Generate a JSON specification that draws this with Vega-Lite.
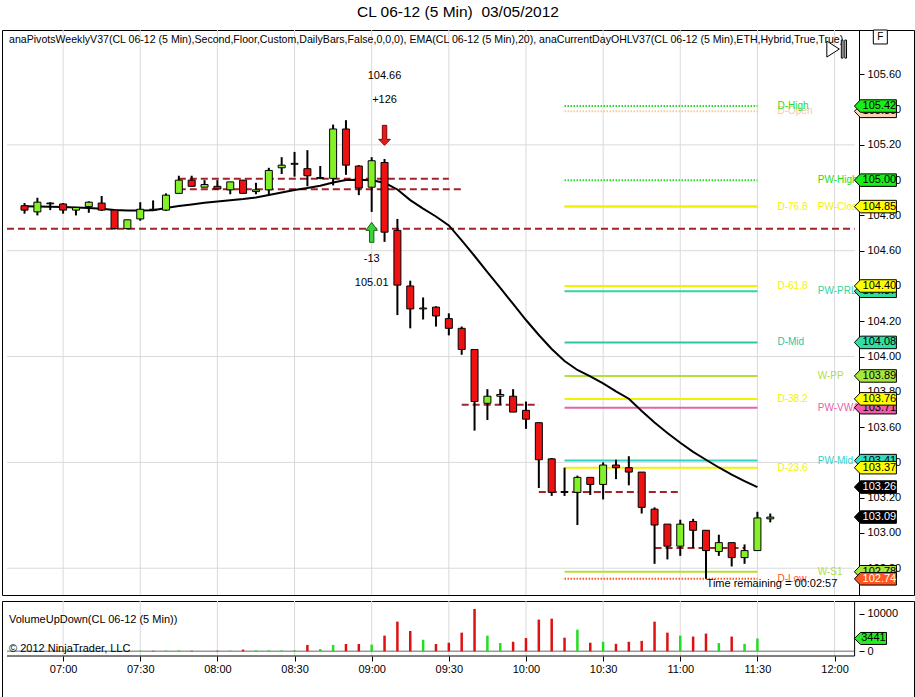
{
  "$schema": "https://vega.github.io/schema/vega-lite/v6.json",
  "background": "#ffffff",
  "padding": {"left": 1, "right": 0, "top": 4, "bottom": 0},
  "title": {"text": "CL 06-12 (5 Min)\u00a0 03/05/2012", "fontSize": 15.5, "font": "Liberation Sans", "fontWeight": "normal", "anchor": "middle", "offset": 7, "color": "#000000"},
  "spacing": 4,
  "config": {
    "view": {"stroke": "#000000", "strokeWidth": 1},
    "font": "Liberation Sans",
    "axis": {"labelFont": "Liberation Sans", "labelFontSize": 11, "labelColor": "#000000", "tickColor": "#000000", "domainColor": "#000000"}
  },
  "datasets": {
    "bars": [
      {"t": "2012-03-05T06:45", "o": 104.855, "h": 104.87, "l": 104.81, "c": 104.83, "v": null, "e": 104.852},
      {"t": "2012-03-05T06:50", "o": 104.82, "h": 104.9, "l": 104.8, "c": 104.875, "v": null, "e": 104.851},
      {"t": "2012-03-05T06:55", "o": 104.87, "h": 104.875, "l": 104.83, "c": 104.866, "v": null, "e": 104.849},
      {"t": "2012-03-05T07:00", "o": 104.865, "h": 104.87, "l": 104.81, "c": 104.83, "v": null, "e": 104.848},
      {"t": "2012-03-05T07:05", "o": 104.83, "h": 104.845, "l": 104.8, "c": 104.845, "v": null, "e": 104.845},
      {"t": "2012-03-05T07:10", "o": 104.85, "h": 104.88, "l": 104.815, "c": 104.875, "v": null, "e": 104.842},
      {"t": "2012-03-05T07:15", "o": 104.87, "h": 104.91, "l": 104.825, "c": 104.83, "v": null, "e": 104.838},
      {"t": "2012-03-05T07:20", "o": 104.83, "h": 104.83, "l": 104.72, "c": 104.725, "v": null, "e": 104.831},
      {"t": "2012-03-05T07:25", "o": 104.725, "h": 104.775, "l": 104.72, "c": 104.775, "v": null, "e": 104.828},
      {"t": "2012-03-05T07:30", "o": 104.78, "h": 104.875, "l": 104.77, "c": 104.835, "v": 200, "e": 104.828},
      {"t": "2012-03-05T07:35", "o": 104.835, "h": 104.885, "l": 104.825, "c": 104.83, "v": 150, "e": 104.829},
      {"t": "2012-03-05T07:40", "o": 104.83, "h": 104.925, "l": 104.825, "c": 104.915, "v": 200, "e": 104.842},
      {"t": "2012-03-05T07:45", "o": 104.925, "h": 105.025, "l": 104.925, "c": 105.0, "v": 250, "e": 104.853},
      {"t": "2012-03-05T07:50", "o": 105.0, "h": 105.025, "l": 104.965, "c": 104.965, "v": 150, "e": 104.862},
      {"t": "2012-03-05T07:55", "o": 104.96, "h": 105.0, "l": 104.96, "c": 104.975, "v": 50, "e": 104.872},
      {"t": "2012-03-05T08:00", "o": 104.965, "h": 105.0, "l": 104.95, "c": 104.95, "v": 150, "e": 104.879},
      {"t": "2012-03-05T08:05", "o": 104.945, "h": 104.99, "l": 104.92, "c": 104.99, "v": 200, "e": 104.886},
      {"t": "2012-03-05T08:10", "o": 105.0, "h": 105.0, "l": 104.925, "c": 104.925, "v": 450, "e": 104.893},
      {"t": "2012-03-05T08:15", "o": 104.935, "h": 104.985, "l": 104.92, "c": 104.945, "v": 250, "e": 104.902},
      {"t": "2012-03-05T08:20", "o": 104.945, "h": 105.07, "l": 104.92, "c": 105.055, "v": 250, "e": 104.916},
      {"t": "2012-03-05T08:25", "o": 105.07, "h": 105.13, "l": 105.035, "c": 105.085, "v": 250, "e": 104.93},
      {"t": "2012-03-05T08:30", "o": 105.09, "h": 105.16, "l": 105.02, "c": 105.095, "v": 300, "e": 104.944},
      {"t": "2012-03-05T08:35", "o": 105.065, "h": 105.17, "l": 104.965, "c": 105.025, "v": 1700, "e": 104.955},
      {"t": "2012-03-05T08:40", "o": 105.01, "h": 105.08, "l": 105.005, "c": 105.015, "v": 600, "e": 104.968},
      {"t": "2012-03-05T08:45", "o": 105.01, "h": 105.315, "l": 104.97, "c": 105.29, "v": 1700, "e": 104.987},
      {"t": "2012-03-05T08:50", "o": 105.29, "h": 105.34, "l": 105.03, "c": 105.085, "v": 1950, "e": 105.001},
      {"t": "2012-03-05T08:55", "o": 105.08, "h": 105.085, "l": 104.915, "c": 104.955, "v": 1950, "e": 105.002},
      {"t": "2012-03-05T09:00", "o": 104.96, "h": 105.13, "l": 104.82, "c": 105.11, "v": 1800, "e": 104.999},
      {"t": "2012-03-05T09:05", "o": 105.1, "h": 105.12, "l": 104.65, "c": 104.705, "v": 4200, "e": 104.985},
      {"t": "2012-03-05T09:10", "o": 104.715, "h": 104.78, "l": 104.235, "c": 104.405, "v": 7950, "e": 104.947},
      {"t": "2012-03-05T09:15", "o": 104.4, "h": 104.43, "l": 104.16, "c": 104.27, "v": 5450, "e": 104.887},
      {"t": "2012-03-05T09:20", "o": 104.27, "h": 104.335, "l": 104.21, "c": 104.275, "v": 3100, "e": 104.839},
      {"t": "2012-03-05T09:25", "o": 104.28, "h": 104.285, "l": 104.17, "c": 104.23, "v": 1950, "e": 104.794},
      {"t": "2012-03-05T09:30", "o": 104.215, "h": 104.245, "l": 104.12, "c": 104.16, "v": 2300, "e": 104.743},
      {"t": "2012-03-05T09:35", "o": 104.16, "h": 104.17, "l": 104.01, "c": 104.04, "v": 5000, "e": 104.658},
      {"t": "2012-03-05T09:40", "o": 104.04, "h": 104.04, "l": 103.58, "c": 103.745, "v": 11350, "e": 104.57},
      {"t": "2012-03-05T09:45", "o": 103.735, "h": 103.815, "l": 103.64, "c": 103.775, "v": 4200, "e": 104.479},
      {"t": "2012-03-05T09:50", "o": 103.775, "h": 103.815, "l": 103.725, "c": 103.785, "v": 2200, "e": 104.389},
      {"t": "2012-03-05T09:55", "o": 103.775, "h": 103.815, "l": 103.685, "c": 103.685, "v": 2550, "e": 104.298},
      {"t": "2012-03-05T10:00", "o": 103.695, "h": 103.745, "l": 103.59, "c": 103.645, "v": 3550, "e": 104.207},
      {"t": "2012-03-05T10:05", "o": 103.625, "h": 103.625, "l": 103.255, "c": 103.415, "v": 8500, "e": 104.122},
      {"t": "2012-03-05T10:10", "o": 103.42, "h": 103.425, "l": 103.21, "c": 103.23, "v": 8750, "e": 104.043},
      {"t": "2012-03-05T10:15", "o": 103.235, "h": 103.37, "l": 103.21, "c": 103.23, "v": 3650, "e": 103.975},
      {"t": "2012-03-05T10:20", "o": 103.23, "h": 103.325, "l": 103.045, "c": 103.315, "v": 5800, "e": 103.924},
      {"t": "2012-03-05T10:25", "o": 103.315, "h": 103.315, "l": 103.215, "c": 103.275, "v": 2300, "e": 103.887},
      {"t": "2012-03-05T10:30", "o": 103.275, "h": 103.4, "l": 103.19, "c": 103.385, "v": 2550, "e": 103.848},
      {"t": "2012-03-05T10:35", "o": 103.385, "h": 103.415, "l": 103.305, "c": 103.37, "v": 2000, "e": 103.802},
      {"t": "2012-03-05T10:40", "o": 103.37, "h": 103.435, "l": 103.27, "c": 103.345, "v": 2550, "e": 103.761},
      {"t": "2012-03-05T10:45", "o": 103.345, "h": 103.345, "l": 103.11, "c": 103.145, "v": 2800, "e": 103.691},
      {"t": "2012-03-05T10:50", "o": 103.135, "h": 103.145, "l": 102.825, "c": 103.045, "v": 7950, "e": 103.626},
      {"t": "2012-03-05T10:55", "o": 103.05, "h": 103.05, "l": 102.85, "c": 102.925, "v": 5000, "e": 103.567},
      {"t": "2012-03-05T11:00", "o": 102.925, "h": 103.075, "l": 102.87, "c": 103.05, "v": 4200, "e": 103.511},
      {"t": "2012-03-05T11:05", "o": 103.065, "h": 103.08, "l": 102.915, "c": 103.015, "v": 3950, "e": 103.46},
      {"t": "2012-03-05T11:10", "o": 103.015, "h": 103.015, "l": 102.74, "c": 102.9, "v": 4750, "e": 103.415},
      {"t": "2012-03-05T11:15", "o": 102.895, "h": 102.99, "l": 102.87, "c": 102.945, "v": 2200, "e": 103.371},
      {"t": "2012-03-05T11:20", "o": 102.945, "h": 102.945, "l": 102.81, "c": 102.86, "v": 3950, "e": 103.331},
      {"t": "2012-03-05T11:25", "o": 102.86, "h": 102.935, "l": 102.825, "c": 102.9, "v": 2000, "e": 103.294},
      {"t": "2012-03-05T11:30", "o": 102.9, "h": 103.12, "l": 102.9, "c": 103.085, "v": 3441, "e": 103.26},
      {"t": "2012-03-05T11:35", "o": 103.08, "h": 103.11, "l": 103.06, "c": 103.09, "v": null, "e": null}
    ],
    "hgrid": [{"p": 105.2}, {"p": 104.6}, {"p": 104.0}, {"p": 103.4}, {"p": 102.8}],
    "vgrid": [
      {"t": "2012-03-05T07:00"}, {"t": "2012-03-05T07:30"}, {"t": "2012-03-05T08:00"}, {"t": "2012-03-05T08:30"},
      {"t": "2012-03-05T09:00"}, {"t": "2012-03-05T09:30"}, {"t": "2012-03-05T10:00"}, {"t": "2012-03-05T10:30"},
      {"t": "2012-03-05T11:00"}, {"t": "2012-03-05T11:30"}, {"t": "2012-03-05T12:00"}
    ],
    "pivots": [
      {"name": "D-Open", "value": 105.39},
      {"name": "D-High", "value": 105.42},
      {"name": "PW-High", "value": 105.0},
      {"name": "D-76.8", "value": 104.85},
      {"name": "PW-Close", "value": 104.85},
      {"name": "D-61.8", "value": 104.4},
      {"name": "PW-PRL", "value": 104.37},
      {"name": "D-Mid", "value": 104.08},
      {"name": "W-PP", "value": 103.89},
      {"name": "D-38.2", "value": 103.76},
      {"name": "PW-VWAP", "value": 103.71},
      {"name": "PW-Mid", "value": 103.41},
      {"name": "D-23.6", "value": 103.37},
      {"name": "W-S1", "value": 102.78},
      {"name": "D-Low", "value": 102.74}
    ],
    "tags": [
      {"name": "D-Open", "value": 105.39},
      {"name": "PW-PRL", "value": 104.37},
      {"name": "PW-VWAP", "value": 103.71},
      {"name": "PW-Mid", "value": 103.41},
      {"name": "W-S1", "value": 102.78},
      {"name": "D-High", "value": 105.42},
      {"name": "PW-High", "value": 105.0},
      {"name": "D-76.8", "value": 104.85},
      {"name": "D-61.8", "value": 104.4},
      {"name": "D-Mid", "value": 104.08},
      {"name": "W-PP", "value": 103.89},
      {"name": "D-38.2", "value": 103.76},
      {"name": "D-23.6", "value": 103.37},
      {"name": "EMA", "value": 103.26},
      {"name": "Last", "value": 103.09},
      {"name": "D-Low", "value": 102.74}
    ],
    "dashes": [
      {"t1": "2012-03-05T06:38:11", "t2": "2012-03-05T12:07:48", "p": 104.725},
      {"t1": "2012-03-05T07:45", "t2": "2012-03-05T09:30", "p": 105.008},
      {"t1": "2012-03-05T07:45", "t2": "2012-03-05T09:35", "p": 104.948},
      {"t1": "2012-03-05T09:35", "t2": "2012-03-05T10:05", "p": 103.727},
      {"t1": "2012-03-05T10:05", "t2": "2012-03-05T11:00", "p": 103.232},
      {"t1": "2012-03-05T10:50", "t2": "2012-03-05T11:25", "p": 102.915}
    ],
    "arrows": [
      {"t": "2012-03-05T09:05", "p": 105.254, "dir": "down"},
      {"t": "2012-03-05T09:00", "p": 104.704, "dir": "up"}
    ],
    "notes": [
      {"t": "2012-03-05T09:05", "p": 105.59, "txt": "104.66"},
      {"t": "2012-03-05T09:05", "p": 105.456, "txt": "+126"},
      {"t": "2012-03-05T09:00", "p": 104.551, "txt": "-13"},
      {"t": "2012-03-05T09:00", "p": 104.419, "txt": "105.01"}
    ]
  },
  "vconcat": [
    {
      "width": 912,
      "height": 565,
      "layer": [
        {
          "data": {"name": "vgrid"},
          "mark": {"type": "rule", "color": "#dadada", "strokeWidth": 1},
          "encoding": {
            "x": {"field": "t", "type": "temporal", "title": null, "axis": null,
              "scale": {"domain": [{"year": 2012, "month": 3, "date": 5, "hours": 6, "minutes": 38, "seconds": 11}, {"year": 2012, "month": 3, "date": 5, "hours": 12, "minutes": 28, "seconds": 57}]}},
            "y": {"datum": 102.6482, "type": "quantitative", "title": null},
            "y2": {"datum": 105.8511}
          }
        },
        {
          "data": {"name": "hgrid"},
          "mark": {"type": "rule", "color": "#dadada", "strokeWidth": 1},
          "encoding": {
            "x": {"datum": {"year": 2012, "month": 3, "date": 5, "hours": 6, "minutes": 38, "seconds": 11}, "type": "temporal", "title": null, "axis": null},
            "x2": {"datum": {"year": 2012, "month": 3, "date": 5, "hours": 12, "minutes": 7, "seconds": 48}},
            "y": {"field": "p", "type": "quantitative", "title": null}
          }
        },
        {
          "data": {"name": "pivots"},
          "mark": {"type": "rule", "strokeWidth": 2},
          "encoding": {
            "x": {"datum": {"year": 2012, "month": 3, "date": 5, "hours": 10, "minutes": 15}, "type": "temporal", "title": null, "axis": null},
            "x2": {"datum": {"year": 2012, "month": 3, "date": 5, "hours": 11, "minutes": 30}},
            "y": {"field": "value", "type": "quantitative", "title": null},
            "color": {"field": "name", "type": "nominal", "legend": null,
              "scale": {"domain": ["D-High","D-Open","PW-High","D-76.8","PW-Close","D-61.8","PW-PRL","D-Mid","W-PP","D-38.2","PW-VWAP","PW-Mid","D-23.6","W-S1","D-Low","EMA","Last"],
                        "range": ["#22dd22","#f6c8a0","#22dd22","#f2f200","#f2f200","#f2f200","#33d49c","#2ec4a6","#b2e03a","#f2f200","#e462aa","#2fd4c8","#f2f200","#b2e03a","#ff5522","#000000","#000000"]}},
            "strokeDash": {"field": "name", "type": "nominal", "legend": null,
              "scale": {"domain": ["D-High","D-Open","PW-High","D-76.8","PW-Close","D-61.8","PW-PRL","D-Mid","W-PP","D-38.2","PW-VWAP","PW-Mid","D-23.6","W-S1","D-Low"],
                        "range": [[1.5,1.5],[1.5,1.5],[1.5,1.5],[1,0],[1,0],[1,0],[1,0],[1,0],[1,0],[1,0],[1,0],[1,0],[1,0],[1,0],[1.5,1.5]]}}
          }
        },
        {
          "data": {"name": "dashes"},
          "mark": {"type": "rule", "color": "#a3222b", "strokeWidth": 2, "strokeDash": [7, 4]},
          "encoding": {
            "x": {"field": "t1", "type": "temporal", "title": null, "axis": null},
            "x2": {"field": "t2"},
            "y": {"field": "p", "type": "quantitative", "title": null}
          }
        },
        {
          "data": {"name": "bars"},
          "mark": {"type": "line", "color": "#000000", "strokeWidth": 2},
          "encoding": {
            "x": {"field": "t", "type": "temporal", "title": null, "axis": null},
            "y": {"field": "e", "type": "quantitative", "title": null}
          }
        },
        {
          "data": {"name": "bars"},
          "mark": {"type": "rule", "color": "#000000", "strokeWidth": 2},
          "encoding": {
            "x": {"field": "t", "type": "temporal", "title": null, "axis": null},
            "y": {"field": "l", "type": "quantitative", "title": null,
              "scale": {"domain": [102.6482, 105.8511], "nice": false, "zero": false},
              "axis": {"orient": "right", "offset": -55, "grid": false, "tickSize": 5, "labelPadding": 3, "format": ".2f", "title": null,
                "values": [102.8, 103.0, 103.2, 103.4, 103.6, 103.8, 104.0, 104.2, 104.4, 104.6, 104.8, 105.0, 105.2, 105.4, 105.6]}},
            "y2": {"field": "h"}
          }
        },
        {
          "data": {"name": "bars"},
          "mark": {"type": "bar", "size": 7, "stroke": "#000000", "strokeWidth": 1},
          "encoding": {
            "x": {"field": "t", "type": "temporal", "title": null, "axis": null},
            "y": {"field": "o", "type": "quantitative", "title": null},
            "y2": {"field": "c"},
            "fill": {"condition": {"test": "datum.c >= datum.o", "value": "#84f028"}, "value": "#ee1111"}
          }
        },
        {
          "data": {"name": "arrows"},
          "transform": [{"filter": "datum.dir === 'down'"}],
          "mark": {"type": "point", "filled": true, "opacity": 1, "size": 400, "fill": "#e41c1c", "stroke": "#8a0000", "strokeWidth": 1,
            "shape": "M -0.22 -1 L 0.22 -1 L 0.22 0.4 L 0.58 0.4 L 0 1 L -0.58 0.4 L -0.22 0.4 Z"},
          "encoding": {
            "x": {"field": "t", "type": "temporal", "title": null, "axis": null},
            "y": {"field": "p", "type": "quantitative", "title": null}
          }
        },
        {
          "data": {"name": "arrows"},
          "transform": [{"filter": "datum.dir === 'up'"}],
          "mark": {"type": "point", "filled": true, "opacity": 1, "size": 400, "fill": "#3ccf3c", "stroke": "#0a6a0a", "strokeWidth": 1,
            "shape": "M -0.22 1 L 0.22 1 L 0.22 -0.2 L 0.58 -0.2 L 0 -1 L -0.58 -0.2 L -0.22 -0.2 Z"},
          "encoding": {
            "x": {"field": "t", "type": "temporal", "title": null, "axis": null},
            "y": {"field": "p", "type": "quantitative", "title": null}
          }
        },
        {
          "data": {"name": "notes"},
          "mark": {"type": "text", "fontSize": 11, "align": "center", "baseline": "middle", "color": "#000000"},
          "encoding": {
            "x": {"field": "t", "type": "temporal", "title": null, "axis": null},
            "y": {"field": "p", "type": "quantitative", "title": null},
            "text": {"field": "txt"}
          }
        },
        {
          "data": {"name": "pivots"},
          "transform": [{"filter": "indexof(datum.name, 'D-') === 0"}],
          "mark": {"type": "text", "fontSize": 10, "align": "left", "baseline": "middle"},
          "encoding": {
            "x": {"datum": {"year": 2012, "month": 3, "date": 5, "hours": 11, "minutes": 37, "seconds": 48}, "type": "temporal", "title": null, "axis": null},
            "y": {"field": "value", "type": "quantitative", "title": null},
            "text": {"field": "name"},
            "color": {"field": "name", "type": "nominal", "legend": null}
          }
        },
        {
          "data": {"name": "pivots"},
          "transform": [{"filter": "indexof(datum.name, 'D-') !== 0"}],
          "mark": {"type": "text", "fontSize": 10, "align": "left", "baseline": "middle"},
          "encoding": {
            "x": {"datum": {"year": 2012, "month": 3, "date": 5, "hours": 11, "minutes": 53, "seconds": 28}, "type": "temporal", "title": null, "axis": null},
            "y": {"field": "value", "type": "quantitative", "title": null},
            "text": {"field": "name"},
            "color": {"field": "name", "type": "nominal", "legend": null}
          }
        },
        {
          "data": {"values": [{}]},
          "mark": {"type": "text", "fontSize": 11, "align": "left", "baseline": "middle", "color": "#000000"},
          "encoding": {
            "x": {"datum": {"year": 2012, "month": 3, "date": 5, "hours": 11, "minutes": 10, "seconds": 14}, "type": "temporal", "title": null, "axis": null},
            "y": {"datum": 102.712, "type": "quantitative", "title": null},
            "text": {"value": "Time remaining = 00:02:57"}
          }
        },
        {
          "data": {"values": [{}]},
          "mark": {"type": "text", "fontSize": 10.6, "align": "left", "baseline": "middle", "color": "#000000", "dx": 2, "limit": 856, "ellipsis": ""},
          "encoding": {
            "x": {"datum": {"year": 2012, "month": 3, "date": 5, "hours": 6, "minutes": 38, "seconds": 11}, "type": "temporal", "title": null, "axis": null},
            "y": {"datum": 105.794, "type": "quantitative", "title": null},
            "text": {"value": "anaPivotsWeeklyV37(CL 06-12 (5 Min),Second,Floor,Custom,DailyBars,False,0,0,0), EMA(CL 06-12 (5 Min),20),  anaCurrentDayOHLV37(CL 06-12 (5 Min),ETH,Hybrid,True,True)"}
          }
        },
        {
          "data": {"values": [{}]},
          "mark": {"type": "point", "filled": true, "opacity": 1, "size": 400, "fill": "#ffffff", "stroke": "#000000", "strokeWidth": 1,
            "shape": "M -1 -0.8 L 0.25 0 L -1 0.8 Z M 0.45 -0.9 L 0.62 -0.9 L 0.62 0.9 L 0.45 0.9 Z M 0.8 -0.9 L 0.97 -0.9 L 0.97 0.9 L 0.8 0.9 Z"},
          "encoding": {
            "x": {"datum": {"year": 2012, "month": 3, "date": 5, "hours": 12, "minutes": 0, "seconds": 53}, "type": "temporal", "title": null, "axis": null},
            "y": {"datum": 105.743, "type": "quantitative", "title": null}
          }
        },
        {
          "data": {"name": "tags"},
          "transform": [{"filter": "indexof(['D-Open','PW-PRL','PW-VWAP','PW-Mid','W-S1'], datum.name) >= 0"}],
          "mark": {"type": "point", "filled": true, "opacity": 1, "size": 1764, "stroke": "#000000", "strokeWidth": 1,
            "shape": "M -1 0 L -0.714 -0.298 L 1 -0.298 L 1 0.298 L -0.714 0.298 Z"},
          "encoding": {
            "x": {"datum": {"year": 2012, "month": 3, "date": 5, "hours": 12, "minutes": 15, "seconds": 53}, "type": "temporal", "title": null, "axis": null},
            "y": {"field": "value", "type": "quantitative", "title": null},
            "fill": {"field": "name", "type": "nominal", "legend": null,
              "scale": {"domain": ["D-High","D-Open","PW-High","D-76.8","PW-Close","D-61.8","PW-PRL","D-Mid","W-PP","D-38.2","PW-VWAP","PW-Mid","D-23.6","W-S1","D-Low","EMA","Last"],
                        "range": ["#18ee18","#fad2b0","#18ee18","#ffff00","#ffff00","#ffff00","#30dc9c","#30e0a2","#a8e63c","#ffff00","#ec5ca8","#30dcc0","#ffff00","#a8e63c","#ff5522","#000000","#000000"]}}
          }
        },
        {
          "data": {"name": "tags"},
          "transform": [{"filter": "indexof(['D-Open','PW-PRL','PW-VWAP','PW-Mid','W-S1'], datum.name) >= 0"}],
          "mark": {"type": "text", "fontSize": 11, "align": "center", "baseline": "middle", "dx": 4},
          "encoding": {
            "x": {"datum": {"year": 2012, "month": 3, "date": 5, "hours": 12, "minutes": 15, "seconds": 53}, "type": "temporal", "title": null, "axis": null},
            "y": {"field": "value", "type": "quantitative", "title": null},
            "text": {"field": "value", "format": ".2f"},
            "color": {"value": "#000000"}
          }
        },
        {
          "data": {"name": "tags"},
          "transform": [{"filter": "indexof(['D-Open','PW-PRL','PW-VWAP','PW-Mid','W-S1'], datum.name) < 0"}],
          "mark": {"type": "point", "filled": true, "opacity": 1, "size": 1764, "stroke": "#000000", "strokeWidth": 1,
            "shape": "M -1 0 L -0.714 -0.298 L 1 -0.298 L 1 0.298 L -0.714 0.298 Z"},
          "encoding": {
            "x": {"datum": {"year": 2012, "month": 3, "date": 5, "hours": 12, "minutes": 15, "seconds": 53}, "type": "temporal", "title": null, "axis": null},
            "y": {"field": "value", "type": "quantitative", "title": null},
            "fill": {"field": "name", "type": "nominal", "legend": null}
          }
        },
        {
          "data": {"name": "tags"},
          "transform": [{"filter": "indexof(['D-Open','PW-PRL','PW-VWAP','PW-Mid','W-S1'], datum.name) < 0"}],
          "mark": {"type": "text", "fontSize": 11, "align": "center", "baseline": "middle", "dx": 4},
          "encoding": {
            "x": {"datum": {"year": 2012, "month": 3, "date": 5, "hours": 12, "minutes": 15, "seconds": 53}, "type": "temporal", "title": null, "axis": null},
            "y": {"field": "value", "type": "quantitative", "title": null},
            "text": {"field": "value", "format": ".2f"},
            "color": {"condition": {"test": "datum.name === 'EMA' || datum.name === 'Last' || datum.name === 'D-Low'", "value": "#ffffff"}, "value": "#000000"}
          }
        },
        {
          "data": {"values": [{}]},
          "mark": {"type": "point", "shape": "square", "filled": true, "opacity": 1, "size": 196, "fill": "#ffffff", "stroke": "#000000", "strokeWidth": 1},
          "encoding": {
            "x": {"datum": {"year": 2012, "month": 3, "date": 5, "hours": 12, "minutes": 17, "seconds": 48}, "type": "temporal", "title": null, "axis": null},
            "y": {"datum": 105.8115, "type": "quantitative", "title": null}
          }
        },
        {
          "data": {"values": [{}]},
          "mark": {"type": "text", "fontSize": 10, "align": "center", "baseline": "middle", "color": "#000000"},
          "encoding": {
            "x": {"datum": {"year": 2012, "month": 3, "date": 5, "hours": 12, "minutes": 17, "seconds": 48}, "type": "temporal", "title": null, "axis": null},
            "y": {"datum": 105.8115, "type": "quantitative", "title": null},
            "text": {"value": "F"}
          }
        }
      ]
    },
    {
      "width": 912,
      "height": 98,
      "layer": [
        {
          "data": {"name": "vgrid"},
          "mark": {"type": "rule", "color": "#dadada", "strokeWidth": 1},
          "encoding": {
            "x": {"field": "t", "type": "temporal", "title": null,
              "scale": {"domain": [{"year": 2012, "month": 3, "date": 5, "hours": 6, "minutes": 38, "seconds": 11}, {"year": 2012, "month": 3, "date": 5, "hours": 12, "minutes": 28, "seconds": 57}]},
              "axis": {"orient": "bottom", "offset": -43, "format": "%H:%M", "grid": false, "domain": false, "tickSize": 5, "labelPadding": 2, "labelFlush": false, "title": null,
                "values": [{"year":2012,"month":3,"date":5,"hours":7,"minutes":0},{"year":2012,"month":3,"date":5,"hours":7,"minutes":30},{"year":2012,"month":3,"date":5,"hours":8,"minutes":0},{"year":2012,"month":3,"date":5,"hours":8,"minutes":30},{"year":2012,"month":3,"date":5,"hours":9,"minutes":0},{"year":2012,"month":3,"date":5,"hours":9,"minutes":30},{"year":2012,"month":3,"date":5,"hours":10,"minutes":0},{"year":2012,"month":3,"date":5,"hours":10,"minutes":30},{"year":2012,"month":3,"date":5,"hours":11,"minutes":0},{"year":2012,"month":3,"date":5,"hours":11,"minutes":30},{"year":2012,"month":3,"date":5,"hours":12,"minutes":0}]}},
            "y": {"datum": -1260, "type": "quantitative", "title": null},
            "y2": {"datum": 13485}
          }
        },
        {
          "data": {"values": [{}]},
          "mark": {"type": "rule", "color": "#9a9a9a", "strokeWidth": 1.5},
          "encoding": {
            "x": {"datum": {"year": 2012, "month": 3, "date": 5, "hours": 6, "minutes": 38, "seconds": 11}, "type": "temporal", "title": null},
            "x2": {"datum": {"year": 2012, "month": 3, "date": 5, "hours": 12, "minutes": 7, "seconds": 48}},
            "y": {"datum": 0, "type": "quantitative", "title": null}
          }
        },
        {
          "data": {"name": "bars"},
          "mark": {"type": "bar", "size": 2.5},
          "encoding": {
            "x": {"field": "t", "type": "temporal", "title": null},
            "y": {"field": "v", "type": "quantitative", "title": null,
              "scale": {"domain": [-1260, 13485], "range": [55, 0], "nice": false, "zero": false},
              "axis": {"orient": "right", "offset": -55, "values": [0, 10000], "format": "d", "grid": false, "domain": false, "tickSize": 5, "labelPadding": 3, "title": null}},
            "y2": {"datum": 0},
            "fill": {"condition": {"test": "datum.c >= datum.o", "value": "#22dd22"}, "value": "#dd1111"}
          }
        },
        {
          "data": {"values": [{}]},
          "mark": {"type": "rule", "color": "#000000", "strokeWidth": 1},
          "encoding": {
            "x": {"datum": {"year": 2012, "month": 3, "date": 5, "hours": 6, "minutes": 38, "seconds": 11}, "type": "temporal", "title": null},
            "x2": {"datum": {"year": 2012, "month": 3, "date": 5, "hours": 12, "minutes": 7, "seconds": 48}},
            "y": {"datum": -1260, "type": "quantitative", "title": null}
          }
        },
        {
          "data": {"values": [{}]},
          "mark": {"type": "rule", "color": "#000000", "strokeWidth": 1},
          "encoding": {
            "x": {"datum": {"year": 2012, "month": 3, "date": 5, "hours": 12, "minutes": 7, "seconds": 48}, "type": "temporal", "title": null},
            "y": {"datum": -1260, "type": "quantitative", "title": null},
            "y2": {"datum": 13485}
          }
        },
        {
          "data": {"values": [{}]},
          "mark": {"type": "text", "fontSize": 11, "align": "left", "baseline": "middle", "color": "#000000", "dx": 2},
          "encoding": {
            "x": {"datum": {"year": 2012, "month": 3, "date": 5, "hours": 6, "minutes": 38, "seconds": 11}, "type": "temporal", "title": null},
            "y": {"datum": 8470, "type": "quantitative", "title": null},
            "text": {"value": "VolumeUpDown(CL 06-12 (5 Min))"}
          }
        },
        {
          "data": {"values": [{}]},
          "mark": {"type": "text", "fontSize": 11, "align": "left", "baseline": "middle", "color": "#000000", "dx": 2},
          "encoding": {
            "x": {"datum": {"year": 2012, "month": 3, "date": 5, "hours": 6, "minutes": 38, "seconds": 11}, "type": "temporal", "title": null},
            "y": {"datum": 620, "type": "quantitative", "title": null},
            "text": {"value": "© 2012 NinjaTrader, LLC"}
          }
        },
        {
          "data": {"values": [{}]},
          "mark": {"type": "point", "filled": true, "opacity": 1, "size": 1024, "fill": "#22ee22", "stroke": "#000000", "strokeWidth": 1,
            "shape": "M -1 0 L -0.625 -0.375 L 1 -0.375 L 1 0.375 L -0.625 0.375 Z"},
          "encoding": {
            "x": {"datum": {"year": 2012, "month": 3, "date": 5, "hours": 12, "minutes": 13, "seconds": 58}, "type": "temporal", "title": null},
            "y": {"datum": 3441, "type": "quantitative", "title": null}
          }
        },
        {
          "data": {"values": [{}]},
          "mark": {"type": "text", "fontSize": 11, "align": "center", "baseline": "middle", "color": "#000000", "dx": 3},
          "encoding": {
            "x": {"datum": {"year": 2012, "month": 3, "date": 5, "hours": 12, "minutes": 13, "seconds": 58}, "type": "temporal", "title": null},
            "y": {"datum": 3441, "type": "quantitative", "title": null},
            "text": {"value": "3441"}
          }
        }
      ]
    }
  ]
}
